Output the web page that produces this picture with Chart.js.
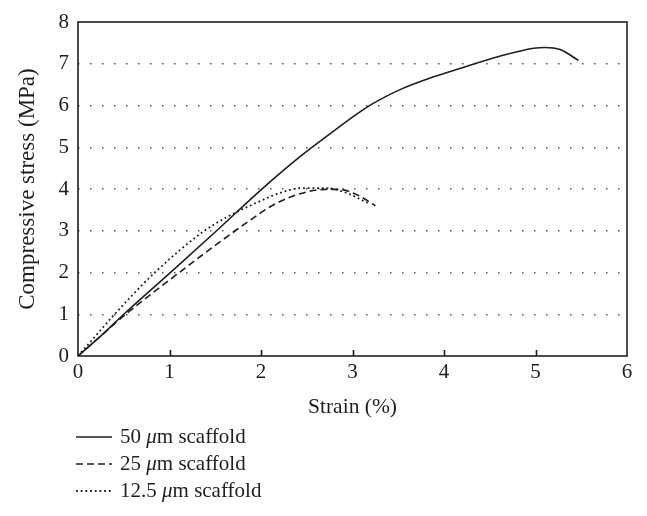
<!DOCTYPE html>
<html lang="en">
<head>
<meta charset="UTF-8" />
<title>Compressive stress vs strain</title>
<script src="https://cdn.jsdelivr.net/npm/chart.js@4.4.1/dist/chart.umd.min.js"></script>
<style>
  html, body { margin: 0; padding: 0; background: #fff; }
  #wrap { width: 647px; height: 516px; }
</style>
</head>
<body>
<div id="wrap"><canvas id="stressChart" width="647" height="516"></canvas></div>
<script>
// values
const strain50 = [0, 0.25, 0.5, 1.0, 1.5, 2.0, 2.43, 2.79, 3.0, 3.15, 3.3, 3.52, 3.88, 4.25, 4.61, 4.98, 5.1, 5.27, 5.47];
const stress50 = [0, 0.48, 1.0, 1.98, 2.97, 3.98, 4.78, 5.38, 5.72, 5.95, 6.14, 6.38, 6.68, 6.94, 7.18, 7.37, 7.39, 7.34, 7.08];

const strain25 = [0, 0.25, 0.5, 1.0, 1.5, 1.77, 2.17, 2.5, 2.7, 2.86, 3.05, 3.25];
const stress25 = [0, 0.48, 0.96, 1.82, 2.65, 3.08, 3.66, 3.93, 3.99, 3.99, 3.86, 3.6];

const strain125 = [0, 0.2, 0.4, 0.85, 1.37, 1.63, 2.0, 2.2, 2.43, 2.72, 2.94, 3.17];
const stress125 = [0, 0.5, 1.0, 2.02, 2.98, 3.33, 3.72, 3.9, 4.02, 4.02, 3.9, 3.66];

const seriesLabels = ['50 μm scaffold', '25 μm scaffold', '12.5 μm scaffold'];
const xTitle = 'Strain (%)';
const yTitle = 'Compressive stress (MPa)';

const serif = "'Liberation Serif', 'DejaVu Serif', serif";
const ink = '#1e1e1e';

function points(xs, ys) {
  return xs.map((x, i) => ({ x: x, y: ys[i] }));
}

const lineStyles = [
  { borderDash: [], borderWidth: 1.6 },
  { borderDash: [7, 4], borderWidth: 1.6 },
  { borderDash: [1.8, 2.9], borderWidth: 1.8 },
];

const series = [points(strain50, stress50), points(strain25, stress25), points(strain125, stress125)];

const datasets = series.map((d, i) => ({
  label: seriesLabels[i],
  data: d,
  borderColor: ink,
  borderWidth: lineStyles[i].borderWidth,
  borderDash: lineStyles[i].borderDash,
  pointRadius: 0,
  fill: false,
  cubicInterpolationMode: 'monotone',
}));

// box around the plot, inward x ticks, and the legend underneath
const framePlugin = {
  id: 'frame',
  afterDatasetsDraw(chart) {
    const { ctx, chartArea: a, scales: { x } } = chart;
    ctx.save();
    ctx.strokeStyle = ink;
    ctx.lineWidth = 1.6;
    ctx.strokeRect(a.left, a.top, a.right - a.left, a.bottom - a.top);
    ctx.beginPath();
    x.ticks.forEach((t) => {
      if (t.value > x.min && t.value < x.max) {
        const px = Math.round(x.getPixelForValue(t.value)) + 0.5;
        ctx.moveTo(px, a.bottom);
        ctx.lineTo(px, a.bottom - 6);
      }
    });
    ctx.stroke();
    ctx.restore();
  },
  afterDraw(chart) {
    const ctx = chart.ctx;
    const rowY = [437, 464, 491];
    ctx.save();
    chart.data.datasets.forEach((ds, i) => {
      const y = rowY[i];
      ctx.strokeStyle = ds.borderColor;
      ctx.lineWidth = ds.borderWidth;
      ctx.setLineDash(ds.borderDash);
      ctx.beginPath();
      ctx.moveTo(76, y);
      ctx.lineTo(112, y);
      ctx.stroke();
      ctx.setLineDash([]);

      // μ is set in italic in the original
      const parts = ds.label.split('μ');
      ctx.fillStyle = ink;
      ctx.textBaseline = 'middle';
      let tx = 120;
      ctx.font = '21px ' + serif;
      ctx.fillText(parts[0], tx, y);
      tx += ctx.measureText(parts[0]).width;
      ctx.font = 'italic 21px ' + serif;
      ctx.fillText('μ', tx, y);
      tx += ctx.measureText('μ').width;
      ctx.font = '21px ' + serif;
      ctx.fillText(parts[1], tx, y);
    });
    ctx.restore();
  },
};

new Chart(document.getElementById('stressChart'), {
  type: 'line',
  data: { datasets: datasets },
  options: {
    responsive: false,
    animation: false,
    devicePixelRatio: 1,
    layout: { padding: { left: 0, right: 20, top: 22, bottom: 96 } },
    plugins: {
      legend: { display: false },
      tooltip: { enabled: false },
    },
    scales: {
      x: {
        type: 'linear',
        min: 0,
        max: 6,
        ticks: { stepSize: 1, color: ink, padding: 4, font: { family: serif, size: 21 } },
        grid: { display: false, drawTicks: false },
        border: { display: false },
        title: {
          display: true,
          text: xTitle,
          color: ink,
          font: { family: serif, size: 21.5 },
          padding: { top: 0, bottom: 0 },
        },
        afterFit(scale) { scale.height = 64; },
      },
      y: {
        min: 0,
        max: 8,
        ticks: { stepSize: 1, color: ink, padding: 9, font: { family: serif, size: 21 } },
        grid: {
          drawTicks: false,
          lineWidth: 1.4,
          color: (c) => (c.tick && c.tick.value > 0 && c.tick.value < 8 ? '#555' : 'rgba(0,0,0,0)'),
        },
        border: { display: false, dash: [1.5, 10.5] },
        title: {
          display: true,
          text: yTitle,
          color: ink,
          font: { family: serif, size: 23 },
          padding: { top: 14, bottom: 0 },
        },
        afterFit(scale) { scale.width = 78; },
      },
    },
  },
  plugins: [framePlugin],
});
</script>
</body>
</html>
